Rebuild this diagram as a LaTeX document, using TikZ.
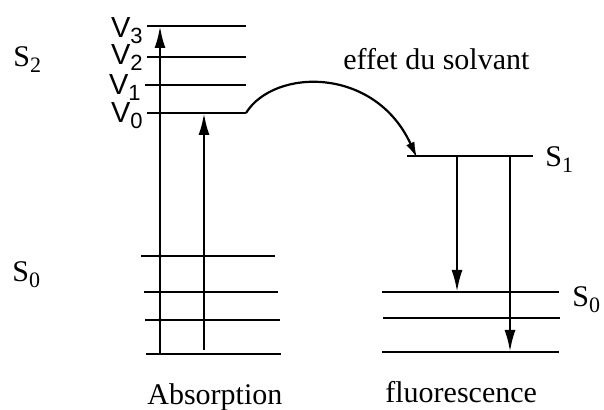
\documentclass[tikz,border=0pt]{standalone}
\usepackage{fontspec}
\setmainfont{Liberation Serif}
\newfontfamily\arialfont{Liberation Sans}
\usetikzlibrary{arrows.meta}
\tikzset{
  level/.style={line width=1.3pt},
  transition/.style={
    line width=1.3pt,
    -{Latex[length=11pt, width=5.5pt]}
  },
  solvent/.style={
    line width=1.1pt,
    -{Latex[length=8pt, width=4.5pt]}
  },
  statelabel/.style={
    font=\fontsize{15pt}{18pt}\selectfont,
    inner sep=0pt,
    anchor=base west
  },
  vlabel/.style={
    font=\arialfont\fontsize{14.5pt}{17pt}\selectfont,
    inner sep=0pt,
    anchor=base east
  }
}
\newcommand{\lowsub}[2]{#1\raisebox{-3pt}{\fontsize{11pt}{12pt}\selectfont #2}}

\begin{document}
\begin{tikzpicture}[x=0.5pt, y=-0.5pt]
  \useasboundingbox (0,0) rectangle (604,410);

  % Vibrational levels of S2
  \draw [level] (147,26) -- (246,26);
  \draw [level] (147,57) -- (246,57);
  \draw [level] (145,85) -- (246,85);
  \draw [level] (147,113) -- (246,113);

  % Levels of S0 (absorption side)
  \foreach \ya/\xa/\xb in {256/141/275, 292/144/278, 320/145/280, 354/146/281}
    \draw [level] (\xa,\ya) -- (\xb,\ya);

  % S1 and levels of S0 (fluorescence side)
  \draw [level] (407,156) -- (533,156);
  \foreach \ya/\xa/\xb in {292/382/559, 318/383/560, 352/382/559}
    \draw [level] (\xa,\ya) -- (\xb,\ya);

  % End points of the transitions
  \coordinate (absbot) at (160,355);
  \coordinate (abstop) at (160,26);
  \coordinate (v0bot) at (204,350);
  \coordinate (v0top) at (204,113);
  \coordinate (v0end) at (246,113);
  \coordinate (s1in) at (417,158);
  \coordinate (fluoA) at (457,156);
  \coordinate (fluoAend) at (457,292);
  \coordinate (fluoB) at (510,156);
  \coordinate (fluoBend) at (510,352);

  % Transitions
  \draw [transition] (absbot) -- (abstop);
  \draw [transition] (v0bot) -- (v0top);
  \draw [solvent] (v0end) .. controls (274,68) and (375,66) .. (s1in);
  \draw [transition] (fluoA) -- (fluoAend);
  \draw [transition] (fluoB) -- (fluoBend);

  % Labels
  \node (lv3) [vlabel] at (143,38) {\lowsub{V}{3}};
  \node (lv2) [vlabel] at (143,65) {\lowsub{V}{2}};
  \node (lv1) [vlabel] at (141,95) {\lowsub{V}{1}};
  \node (lv0) [vlabel] at (143,123) {\lowsub{V}{0}};

  \node (ls2) [statelabel] at (13,67) {\lowsub{S}{2}};
  \node (ls0a) [statelabel] at (12,282) {\lowsub{S}{0}};
  \node (ls1) [statelabel] at (545,167) {\lowsub{S}{1}};
  \node (ls0b) [statelabel] at (572,307) {\lowsub{S}{0}};

  \node (solv) [statelabel] at (343,70) {effet du solvant};
  \node (abs) [statelabel] at (147,405) {Absorption};
  \node (fluo) [statelabel] at (385,402) {fluorescence};

\end{tikzpicture}
\end{document}
